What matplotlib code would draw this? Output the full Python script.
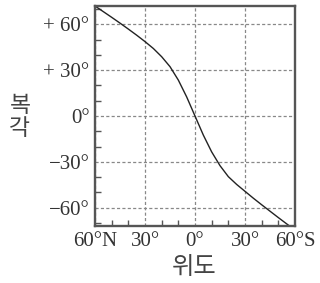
import matplotlib
matplotlib.use('Agg')
from matplotlib import pyplot as plt
from matplotlib.ticker import MultipleLocator

# 위도 (북위 +, 남위 -) 와 복각 값
latitude = [60, 55, 50, 45, 40, 35, 30, 25, 20, 15, 10, 5, 0,
            -5, -10, -15, -20, -25, -30, -35, -40, -45, -50, -55, -60]
inclination = [72, 68.3, 64.6, 60.8, 56.9, 52.9, 48.7, 44.2, 38.8, 32.3, 23.5, 12.5, 0,
               -12.5, -23.5, -32.5, -39.7, -44.8, -49.3, -53.8, -58.1, -62.3, -66.5, -70.6, -74.7]

x_ticks = [60, 30, 0, -30, -60]
x_labels = ['60°N', '30°', '0°', '30°', '60°S']
y_ticks = [60, 30, 0, -30, -60]
y_labels = ['+ 60°', '+ 30°', '0°', '−30°', '−60°']

serif = ['Liberation Serif', 'DejaVu Serif']
kr = ['Noto Sans CJK KR', 'DejaVu Sans']

fig = plt.figure(figsize=(3.2, 2.83), dpi=100)
ax = fig.add_axes([95 / 320, 1 - 226 / 283, 200 / 320, 220 / 283])

ax.plot(latitude, inclination, color='#222222', linewidth=1.0)

ax.set_xlim(60, -60)
ax.set_ylim(-72, 72)

ax.set_xticks(x_ticks)
ax.set_xticklabels(x_labels, fontfamily=serif, fontsize=15)
ax.set_yticks(y_ticks)
ax.set_yticklabels(y_labels, fontfamily=serif, fontsize=15)
ax.xaxis.set_minor_locator(MultipleLocator(10))
ax.yaxis.set_minor_locator(MultipleLocator(10))

ax.tick_params(which='major', length=0, pad=4)
ax.tick_params(which='minor', direction='in', length=4, width=1.0, color='#555555')
ax.tick_params(axis='both', labelcolor='#333333')

ax.grid(True, which='major', linestyle=(0, (2.5, 1.8)), color='#888888', linewidth=0.9)

for s in ax.spines.values():
    s.set_color('#555555')
    s.set_linewidth(1.7)

fig.text(20 / 320, 1 - 117 / 283, '복\n각', fontfamily=kr, fontsize=16.5, fontweight='light',
         ha='center', va='center', linespacing=1.0, color='#444444')
fig.text(194 / 320, 1 - 267 / 283, '위도', fontfamily=kr, fontsize=17.5, fontweight='light',
         ha='center', va='center', color='#444444')

fig.savefig('out.png', dpi=100)
